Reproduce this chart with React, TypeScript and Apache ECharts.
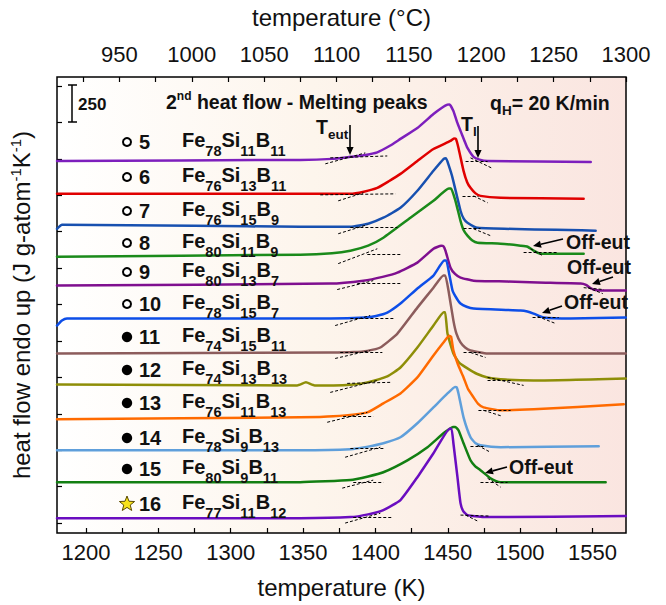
import React, { useEffect, useRef } from 'react';
import * as echarts from 'echarts';

const FONT = '"Liberation Sans", Arial, Helvetica, sans-serif';

// ---- axis ticks / labels ----
const kelvinLabels = [1200, 1250, 1300, 1350, 1400, 1450, 1500, 1550];
const kelvinTicks = [1200, 1225, 1250, 1275, 1300, 1325, 1350, 1375, 1400, 1425, 1450, 1475, 1500, 1525, 1550];
const celsiusLabels = [950, 1000, 1050, 1100, 1150, 1200, 1250, 1300];
const celsiusTicks = [925, 950, 975, 1000, 1025, 1050, 1075, 1100, 1125, 1150, 1175, 1200, 1225, 1250, 1275, 1300];
const heatTicks = [0, 250, 500, 750, 1000, 1250, 1500, 1750, 2000, 2250, 2500, 2750, 3000];

// ---- samples ----
const sampleIds = ['5', '6', '7', '8', '9', '10', '11', '12', '13', '14', '15', '16'];
const feSub = ['78', '76', '76', '80', '80', '78', '74', '74', '76', '78', '80', '77'];
const siSub = ['11', '13', '15', '11', '13', '15', '15', '13', '11', '9', '9', '11'];
const bSub = ['11', '11', '9', '9', '7', '7', '11', '13', '13', '13', '11', '12'];
const markerKinds = ['open', 'open', 'open', 'open', 'open', 'open', 'filled', 'filled', 'filled', 'filled', 'filled', 'star'];
const curveColors = ['#7d1fbd', '#e00000', '#1750b0', '#1a8a1a', '#7f0f8f', '#0d4ee8', '#8c5c5c', '#8e8e08', '#ff6a00', '#5f9fdb', '#127f12', '#6a0dc0'];

// ---- curves: [temperature K, heat flow (offset, J g-atom^-1 K^-1)] ----
const curve5 = [[1180, 2486], [1348, 2493], [1370, 2500], [1382.7, 2514], [1392, 2525], [1401.3, 2545], [1410, 2590], [1417.3, 2637], [1429, 2712], [1440.1, 2808], [1447, 2858], [1449.8, 2872], [1451.2, 2874], [1453.9, 2829], [1456.5, 2750], [1458.8, 2692], [1461.5, 2625], [1463.6, 2575], [1467.8, 2514], [1472, 2495], [1477.5, 2486], [1548.8, 2479]];
const curve6 = [[1180, 2260], [1348, 2260], [1382.7, 2260], [1392, 2275], [1401.3, 2301], [1409, 2345], [1417.3, 2397], [1429, 2486], [1440.1, 2568], [1451.9, 2623], [1454.3, 2640], [1455.6, 2638], [1457.4, 2575], [1460.9, 2418], [1463.4, 2340], [1465.7, 2301], [1469, 2265], [1472.6, 2246], [1486.5, 2233], [1543.9, 2226]];
const curve7 = [[1180, 2020], [1183.5, 2048], [1275, 2041], [1348, 2034], [1382.7, 2034], [1395, 2055], [1405.5, 2096], [1417.3, 2164], [1429, 2281], [1440.1, 2418], [1447.2, 2500], [1448.8, 2504], [1450.5, 2460], [1453.3, 2370], [1458.8, 2144], [1461, 2090], [1463.6, 2062], [1470.6, 2027], [1552.2, 2007]];
const curve8 = [[1180, 1829], [1348, 1842], [1370, 1852], [1382.7, 1870], [1395, 1905], [1405.5, 1959], [1424.2, 2096], [1440.1, 2212], [1450.8, 2296], [1452.3, 2296], [1455.3, 2212], [1458.8, 2075], [1461, 2010], [1463.6, 1973], [1467, 1940], [1470.6, 1925], [1486.5, 1918], [1500.3, 1904], [1505.2, 1897], [1509.3, 1870], [1514.2, 1849], [1543.9, 1849]];
const curve9 = [[1180, 1630], [1368.8, 1644], [1391.7, 1664], [1405, 1690], [1415.2, 1719], [1429, 1788], [1440.1, 1883], [1445.5, 1904], [1447, 1900], [1448.4, 1870], [1451.9, 1753], [1455, 1710], [1458.8, 1685], [1467.8, 1664], [1491.3, 1658], [1512.1, 1651], [1541.8, 1644], [1545.5, 1635], [1548.8, 1612], [1552, 1600], [1557.8, 1596], [1573, 1596]];
const curve10 = [[1180, 1356], [1183.4, 1390], [1186.9, 1404], [1279, 1404], [1368.8, 1404], [1393, 1411], [1400.5, 1422], [1408.2, 1445], [1417.3, 1507], [1429, 1610], [1440.1, 1699], [1447.6, 1802], [1449, 1802], [1451.2, 1699], [1453.3, 1596], [1456, 1545], [1458.8, 1507], [1463, 1485], [1467.8, 1473], [1500.3, 1459], [1505, 1452], [1509.3, 1438], [1516.2, 1411], [1534.9, 1404], [1573, 1411]];
const curve11 = [[1180, 1164], [1368.8, 1171], [1385, 1174], [1394.4, 1182], [1403.4, 1205], [1415.2, 1301], [1429, 1479], [1440.1, 1616], [1447, 1700], [1448.3, 1700], [1450.5, 1596], [1453.9, 1390], [1456, 1300], [1458.8, 1240], [1462, 1205], [1465.7, 1185], [1477.5, 1164], [1573, 1164]];
const curve12 = [[1180, 952], [1346, 945], [1352, 966], [1358, 945], [1371, 945], [1385, 952], [1394.4, 966], [1408.2, 1007], [1417.3, 1068], [1429, 1205], [1440.1, 1356], [1447.2, 1448], [1448.2, 1448], [1449.8, 1301], [1453.9, 1164], [1458, 1100], [1463.6, 1062], [1470, 1025], [1477.5, 1000], [1490, 985], [1509.3, 979], [1573, 993]];
const curve13 = [[1180, 712], [1348, 726], [1371, 733], [1394.4, 760], [1405.5, 822], [1417.3, 890], [1429, 1000], [1440.1, 1151], [1447, 1240], [1451, 1286], [1452.3, 1280], [1453.9, 1185], [1457, 1090], [1460.9, 1000], [1464, 920], [1467.8, 863], [1471, 818], [1474.7, 794], [1486.5, 774], [1509.3, 781], [1571.6, 815]];
const curve14 = [[1180, 500], [1348, 500], [1382.7, 507], [1395, 525], [1405.5, 548], [1417.3, 589], [1429, 685], [1440.1, 794], [1449.8, 890], [1455, 935], [1456.2, 932], [1457.4, 890], [1460.9, 726], [1465.7, 589], [1469, 550], [1472.6, 534], [1486.5, 521], [1554.3, 527]];
const curve15 = [[1180, 281], [1348, 281], [1382.7, 295], [1395, 320], [1405.5, 349], [1422.1, 431], [1436, 521], [1447, 616], [1453.6, 660], [1455.2, 660], [1457.4, 637], [1460.9, 548], [1465.7, 431], [1469, 390], [1472.6, 363], [1479.5, 308], [1483, 290], [1486.5, 281], [1559.1, 281]];
const curve16 = [[1180, 34], [1348, 34], [1382.7, 41], [1395, 60], [1405.5, 89], [1417.3, 158], [1429, 315], [1440.1, 479], [1451.4, 648], [1452.6, 648], [1453.9, 548], [1456.7, 315], [1458.8, 137], [1460.8, 80], [1463.6, 55], [1474.7, 41], [1573, 48]];
const curves = [curve5, curve6, curve7, curve8, curve9, curve10, curve11, curve12, curve13, curve14, curve15, curve16];

// ---- dashed tangent construction lines ----
const tangents = [
  [[1368.8, 2507], [1408.2, 2520]], [[1365.4, 2466], [1393, 2541]], [[1462.3, 2486], [1477.5, 2486]], [[1465.7, 2507], [1480.2, 2438]],
  [[1361.9, 2253], [1413.8, 2260]], [[1374.3, 2212], [1391.7, 2267]], [[1460.2, 2246], [1471.2, 2246]], [[1467.8, 2246], [1477.5, 2199]],
  [[1382.7, 2034], [1415.2, 2034]], [[1374.3, 1986], [1394.4, 2048]], [[1460.9, 2027], [1472.6, 2027]], [[1467.8, 2020], [1479.5, 1973]],
  [[1394.4, 1842], [1417.3, 1842]], [[1374.3, 1781], [1401.3, 1883]], [[1502.4, 1856], [1525.9, 1856]], [[1507.2, 1883], [1515.5, 1836]],
  [[1387.5, 1644], [1417.3, 1644]], [[1373.6, 1603], [1398.5, 1664]], [[1543.9, 1616], [1557.8, 1603]], [[1546.7, 1616], [1557.1, 1575]],
  [[1382.7, 1404], [1412.4, 1404]], [[1372.2, 1356], [1396.4, 1425]], [[1508.6, 1411], [1526.6, 1411]], [[1512.1, 1418], [1524.5, 1370]],
  [[1375.7, 1171], [1404.8, 1171]], [[1372.2, 1130], [1396.4, 1185]], [[1460.9, 1171], [1472.6, 1171]], [[1465.7, 1171], [1476.1, 1137]],
  [[1380.5, 959], [1410.3, 966]], [[1368.8, 897], [1401.3, 979]], [[1477.5, 979], [1493.4, 979]], [[1477.5, 1000], [1502.4, 945]],
  [[1377.7, 733], [1398.5, 733]], [[1366.7, 692], [1394.4, 760]], [[1471.2, 774], [1493.4, 774]], [[1474.7, 774], [1487.8, 733]],
  [[1382.7, 514], [1406.8, 514]], [[1379.1, 452], [1403.4, 521]], [[1465.7, 527], [1476.1, 527]], [[1470.6, 534], [1479.5, 486]],
  [[1384.7, 281], [1405.5, 281]], [[1377.1, 240], [1398.5, 295]], [[1472.6, 281], [1491.3, 281]], [[1477.5, 308], [1486.5, 247]],
  [[1384.7, 41], [1411.7, 41]], [[1379.1, 0], [1403.4, 68]], [[1458.8, 55], [1479.5, 48]], [[1462.3, 55], [1470.6, 14]],
];

// ---- layout (pixels) ----
const labelRowY = [142, 177, 211, 243, 272, 304, 337, 370, 403, 438, 469, 504];

function arrow(x1: number, y1: number, x2: number, y2: number, head = 8, hw = 3.6) {
  const dx = x2 - x1, dy = y2 - y1, L = Math.hypot(dx, dy);
  const ux = dx / L, uy = dy / L;
  const bx = x2 - ux * head, by = y2 - uy * head;
  return [
    { type: 'line', z: 20, shape: { x1, y1, x2: bx, y2: by }, style: { stroke: '#000', lineWidth: 1.6 } },
    { type: 'polygon', z: 20, shape: { points: [[x2, y2], [bx - uy * hw, by + ux * hw], [bx + uy * hw, by - ux * hw]] }, style: { fill: '#000' } },
  ];
}

function starPoints(cx: number, cy: number, R: number, r: number) {
  const pts: number[][] = [];
  for (let i = 0; i < 10; i++) {
    const a = -Math.PI / 2 + (i * Math.PI) / 5;
    const rad = i % 2 === 0 ? R : r;
    pts.push([cx + rad * Math.cos(a), cy + rad * Math.sin(a)]);
  }
  return pts;
}

const richFormula = {
  m: { fontSize: 20, fontWeight: 'bold', fontFamily: FONT, fill: '#111', lineHeight: 22, verticalAlign: 'top' },
  s: { fontSize: 14.5, fontWeight: 'bold', fontFamily: FONT, fill: '#111', padding: [13, 0, 0, 0], verticalAlign: 'bottom' },
};
const richSub19 = {
  m: { fontSize: 19.5, fontWeight: 'bold', fontFamily: FONT, fill: '#111', lineHeight: 21, verticalAlign: 'top' },
  s: { fontSize: 13.5, fontWeight: 'bold', fontFamily: FONT, fill: '#111', padding: [11, 0, 0, 0], verticalAlign: 'bottom' },
};
const richSup19 = {
  m: { fontSize: 19.5, fontWeight: 'bold', fontFamily: FONT, fill: '#111', verticalAlign: 'bottom' },
  u: { fontSize: 12, fontWeight: 'bold', fontFamily: FONT, fill: '#111', padding: [0, 0, 10, 0], verticalAlign: 'top' },
};

function buildGraphics() {
  const g: any[] = [];
  // scale bar
  g.push({ type: 'line', z: 20, shape: { x1: 72, y1: 85, x2: 72, y2: 122 }, style: { stroke: '#000', lineWidth: 1.5 } });
  g.push({ type: 'line', z: 20, shape: { x1: 68, y1: 85, x2: 77, y2: 85 }, style: { stroke: '#000', lineWidth: 1.5 } });
  g.push({ type: 'line', z: 20, shape: { x1: 68, y1: 122, x2: 77, y2: 122 }, style: { stroke: '#000', lineWidth: 1.5 } });
  g.push({ type: 'text', z: 20, x: 78, y: 104, style: { text: '250', fontSize: 17, fontWeight: 'bold', fontFamily: FONT, fill: '#111', verticalAlign: 'middle' } });
  // title
  g.push({ type: 'text', z: 20, x: 166, y: 101, style: { text: '{m|2}{u|nd}{m| heat flow - Melting peaks}', rich: richSup19, verticalAlign: 'middle' } });
  g.push({ type: 'text', z: 20, x: 490, y: 105, style: { text: '{m|q}{s|H}{m|= 20 K/min}', rich: richSub19, verticalAlign: 'middle' } });
  // T_eut / T_l
  g.push({ type: 'text', z: 20, x: 316, y: 129, style: { text: '{m|T}{s|eut}', rich: richSub19, verticalAlign: 'middle' } });
  g.push(...arrow(350, 125, 350, 155));
  g.push({ type: 'text', z: 20, x: 461, y: 126, style: { text: '{m|T}{s|l}', rich: richSub19, verticalAlign: 'middle' } });
  g.push(...arrow(478, 126, 478, 158));
  // Off-eut
  const offEut = [[566, 242, 563, 239, 533, 246], [567, 267, 613, 277, 592, 284], [564, 302, 562, 306, 542, 313], [509, 467, 507, 467, 485, 473]];
  offEut.forEach(([tx, ty, x1, y1, x2, y2]) => {
    g.push({ type: 'text', z: 20, x: tx, y: ty, style: { text: 'Off-eut', fontSize: 19.5, fontWeight: 'bold', fontFamily: FONT, fill: '#111', verticalAlign: 'middle' } });
    g.push(...arrow(x1, y1, x2, y2));
  });
  // sample labels
  sampleIds.forEach((id, i) => {
    const cy = labelRowY[i];
    const kind = markerKinds[i];
    if (kind === 'open') {
      g.push({ type: 'circle', z: 20, shape: { cx: 127, cy, r: 4 }, style: { fill: '#fff', stroke: '#000', lineWidth: 2 } });
    } else if (kind === 'filled') {
      g.push({ type: 'circle', z: 20, shape: { cx: 127, cy, r: 5.2 }, style: { fill: '#000' } });
    } else {
      g.push({ type: 'polygon', z: 20, shape: { points: starPoints(127, cy, 8, 3.4) }, style: { fill: '#f7e21b', stroke: '#5a4a00', lineWidth: 1 } });
    }
    g.push({ type: 'text', z: 20, x: 139, y: cy, style: { text: id, fontSize: 20, fontWeight: 'bold', fontFamily: FONT, fill: '#111', verticalAlign: 'middle' } });
    g.push({
      type: 'text', z: 20, x: 182, y: cy + 2,
      style: { text: `{m|Fe}{s|${feSub[i]}}{m|Si}{s|${siSub[i]}}{m|B}{s|${bSub[i]}}`, rich: richFormula, verticalAlign: 'middle' },
    });
  });
  return g;
}

function buildOption() {
  const lineSeries = curves.map((data, i) => ({
    type: 'line',
    data,
    showSymbol: false,
    smooth: 0.15,
    lineStyle: { width: 2.5, color: curveColors[i], join: 'round', cap: 'round' },
    itemStyle: { color: curveColors[i] },
    z: 3,
    silent: true,
  }));
  const plain = (v: number) => String(v);
  return {
    animation: false,
    backgroundColor: '#ffffff',
    grid: {
      show: true,
      left: 57,
      top: 76,
      width: 569,
      height: 457,
      borderColor: '#000',
      borderWidth: 1.5,
      backgroundColor: new echarts.graphic.LinearGradient(0, 0, 1, 0, [
        { offset: 0, color: '#ffffff' },
        { offset: 0.45, color: '#fdf5ec' },
        { offset: 1, color: '#fae5e0' },
      ]),
    },
    xAxis: [
      {
        type: 'value',
        position: 'bottom',
        min: 1180,
        max: 1573.15,
        axisLine: { show: false, onZero: false },
        axisTick: { inside: true, length: 5, customValues: kelvinTicks, lineStyle: { color: '#000', width: 1.2 } },
        axisLabel: { customValues: kelvinLabels, formatter: plain, fontSize: 22, fontFamily: FONT, color: '#111', margin: 8 },
        splitLine: { show: false },
        name: 'temperature (K)',
        nameLocation: 'middle',
        nameGap: 42,
        nameTextStyle: { fontSize: 24, fontFamily: FONT, color: '#111' },
      },
      {
        type: 'value',
        position: 'top',
        min: 1180 - 273.15,
        max: 1300,
        axisLine: { show: false, onZero: false },
        axisTick: { inside: true, length: 5, customValues: celsiusTicks, lineStyle: { color: '#000', width: 1.2 } },
        axisLabel: { customValues: celsiusLabels, formatter: plain, fontSize: 22, fontFamily: FONT, color: '#111', margin: 12, showMaxLabel: true },
        splitLine: { show: false },
        name: 'temperature (°C)',
        nameLocation: 'middle',
        nameGap: 48,
        nameTextStyle: { fontSize: 24, fontFamily: FONT, color: '#111' },
      },
    ],
    yAxis: {
      type: 'value',
      min: -68,
      max: 3062,
      axisLine: { show: false, onZero: false },
      axisTick: { inside: true, length: 5, customValues: heatTicks, lineStyle: { color: '#000', width: 1.2 } },
      axisLabel: { show: false },
      splitLine: { show: false },
      name: '{a|heat flow endo up (J g-atom}{s|-1}{a|K}{s|-1}{a|)}',
      nameLocation: 'middle',
      nameGap: 24,
      nameTextStyle: {
        fontSize: 24,
        fontFamily: FONT,
        color: '#111',
        rich: {
          a: { fontSize: 24, fontFamily: FONT, color: '#111', verticalAlign: 'bottom' },
          s: { fontSize: 15, fontFamily: FONT, color: '#111', padding: [0, 0, 10, 0], verticalAlign: 'top' },
        },
      },
    },
    series: [
      ...lineSeries,
      {
        type: 'lines',
        coordinateSystem: 'cartesian2d',
        xAxisIndex: 0,
        yAxisIndex: 0,
        silent: true,
        z: 4,
        lineStyle: { color: '#000', width: 1, type: [3, 2], opacity: 1 },
        data: tangents.map((c) => ({ coords: c })),
      },
    ],
    graphic: { elements: buildGraphics() },
  };
}

export default function App() {
  const ref = useRef<HTMLDivElement>(null);
  useEffect(() => {
    if (!ref.current) return;
    const chart = echarts.init(ref.current, null, { renderer: 'svg' });
    chart.setOption(buildOption() as any);
    return () => chart.dispose();
  }, []);
  return (
    <div
      ref={ref}
      style={{ position: 'fixed', left: 0, top: 0, width: 666, height: 605, background: '#fff' }}
    />
  );
}
